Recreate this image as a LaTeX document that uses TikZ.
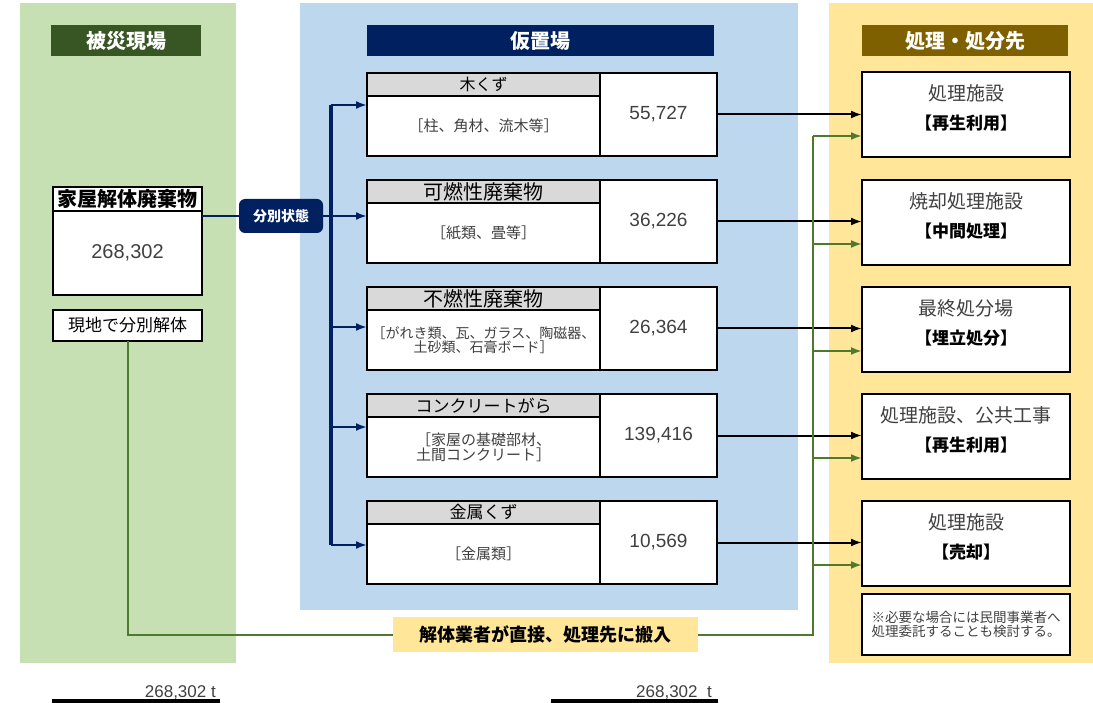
\documentclass[tikz,border=0pt]{standalone}
\usepackage{fontspec}
\setmainfont{Noto Sans CJK JP}
\newfontfamily\numfont{Liberation Sans}
\usetikzlibrary{positioning,calc,arrows.meta}

\definecolor{grnpanel}{HTML}{C6E0B4}
\definecolor{bluepanel}{HTML}{BDD7EE}
\definecolor{ylwpanel}{HTML}{FFE699}
\definecolor{grnhead}{HTML}{375623}
\definecolor{navyhead}{HTML}{002060}
\definecolor{brnhead}{HTML}{7F6000}
\definecolor{cellgray}{HTML}{D9D9D9}
\definecolor{leafgreen}{HTML}{4F7A2E}
\definecolor{numgray}{HTML}{404040}

\newcommand{\fsz}[1]{\fontsize{#1}{#1}\selectfont}

\tikzset{
  headbar/.style={fill=#1, text=white, font=\fsz{20}\bfseries, minimum height=31, inner sep=0},
  cell/.style={draw=black, fill=white, line width=2, inner sep=0, outer sep=0},
  navyflow/.style={draw=navyhead, line width=2.5},
  blkflow/.style={draw=black, line width=2},
  grnflow/.style={draw=leafgreen, line width=2},
}

\begin{document}
\begin{tikzpicture}[x=1pt, y=-1pt, >={Latex[length=11pt,width=8pt]}]
    \useasboundingbox (0,0) rectangle (1093,703);

    \fill[grnpanel] (20,3) rectangle (236,663);
    \fill[bluepanel] (300,3) rectangle (798,610);
    \fill[ylwpanel] (829,3) rectangle (1093,663);

    \node (hd1) at (126,40.5) [headbar=grnhead, minimum width=150] {被災現場};
    \node (hd2) at (540.5,40.5) [headbar=navyhead, minimum width=347] {仮置場};
    \node (hd3) at (965,40.5) [headbar=brnhead, minimum width=206] {処理・処分先};

    % site
    \node (kt) at (127.5,199) [cell, minimum width=149, minimum height=24, font=\fsz{20}\bfseries] {家屋解体廃棄物};
    \node (kb) [cell, below=0pt of kt, minimum width=149, minimum height=84, font=\numfont\fsz{20}, text=numgray] {268,302};
    \node (gen) at (127.5,325.5) [cell, minimum width=149, minimum height=31, font=\fsz{17}] {現地で分別解体};

    \node (sep) at (281,216) [fill=navyhead, text=white, rounded corners=6, minimum width=84, minimum height=34, font=\fsz{14}\bfseries] {分別状態};

    % temporary storage
    \foreach \i/\yt/\ay/\tsz/\ssz/\ttl/\sub/\val in {
        1/73/105/16/15/{木くず}/{［柱、角材、流木等］}/{55,727},
        2/180/216/20/15/{可燃性廃棄物}/{［紙類、畳等］}/{36,226},
        3/287/327/20/14/{不燃性廃棄物}/{［がれき類、瓦、ガラス、陶磁器、\\土砂類、石膏ボード］}/{26,364},
        4/394/427/17/15/{コンクリートがら}/{［家屋の基礎部材、\\土間コンクリート］}/{139,416},
        5/501/545/17/15/{金属くず}/{［金属類］}/{10,569}}
    {
        \node (t\i) at (483.5,\yt+11.5) [cell, fill=cellgray, minimum width=233, minimum height=23, font=\fsz{\tsz}] {\ttl};
        \node (b\i) [cell, below=0pt of t\i, minimum width=233, minimum height=60, align=center, font=\fsz{\ssz}, text=numgray] {\sub};
        \node (v\i) at (658.5,\yt+41.5) [cell, minimum width=117, minimum height=83, font=\numfont\fsz{19}, text=numgray] {\val};
        \coordinate (k\i) at (331,\ay);
        \draw[navyflow, ->] (k\i) -- (k\i -| b\i.west);
    }
    \draw[navyflow, line width=4] (k1) -- (k5);
    \draw[navyflow] (kb.east |- sep.west) -- (sep.west);
    \draw[navyflow] (sep.east) -- (k2);

    % destinations
    \coordinate (trk) at (813,635);
    \foreach \i/\yt/\ttl/\sub in {
        1/72/{処理施設}/{【再生利用】},
        2/180/{焼却処理施設}/{【中間処理】},
        3/287/{最終処分場}/{【埋立処分】},
        4/394/{処理施設、公共工事}/{【再生利用】},
        5/501/{処理施設}/{【売却】}}
    {
        \node (r\i) at (966,\yt+42.5) [cell, minimum width=208, minimum height=85] {};
        \node (rn\i) at (966,\yt+21) [font=\fsz{19}, text=numgray] {\ttl};
        \node (rs\i) at (966,\yt+51) [font=\fsz{17}\bfseries] {\sub};
        \draw[blkflow, ->] (v\i.east) -- (v\i.east -| r\i.west);
        \coordinate (g\i) at ($(r\i.south west)+(0,-21)$);
        \draw[grnflow, ->] (g\i -| trk) -- (g\i);
    }
    \node (note) at (966,624.5) [cell, minimum width=208, minimum height=61, align=center, font=\fsz{13.5}, text=numgray] {※必要な場合には民間事業者へ\\処理委託することも検討する。};

    % direct route
    \node (lab) at (545.5,634.5) [fill=ylwpanel, minimum width=305, minimum height=35, font=\fsz{18}\bfseries] {解体業者が直接、処理先に搬入};
    \draw[grnflow] (gen.south) |- (lab.west);
    \draw[grnflow] (lab.east) -| (g1 -| trk);

    \node (tot1) at (216,697) [anchor=base east, inner sep=0, font=\numfont\fsz{17}, text=numgray] {268,302 t};
    \node (tot2) at (712,697) [anchor=base east, inner sep=0, font=\numfont\fsz{17}, text=numgray] {268,302\ \ t};
    \draw[line width=4] (52,701) -- (220,701);
    \draw[line width=4] (551,701) -- (718,701);
\end{tikzpicture}
\end{document}
